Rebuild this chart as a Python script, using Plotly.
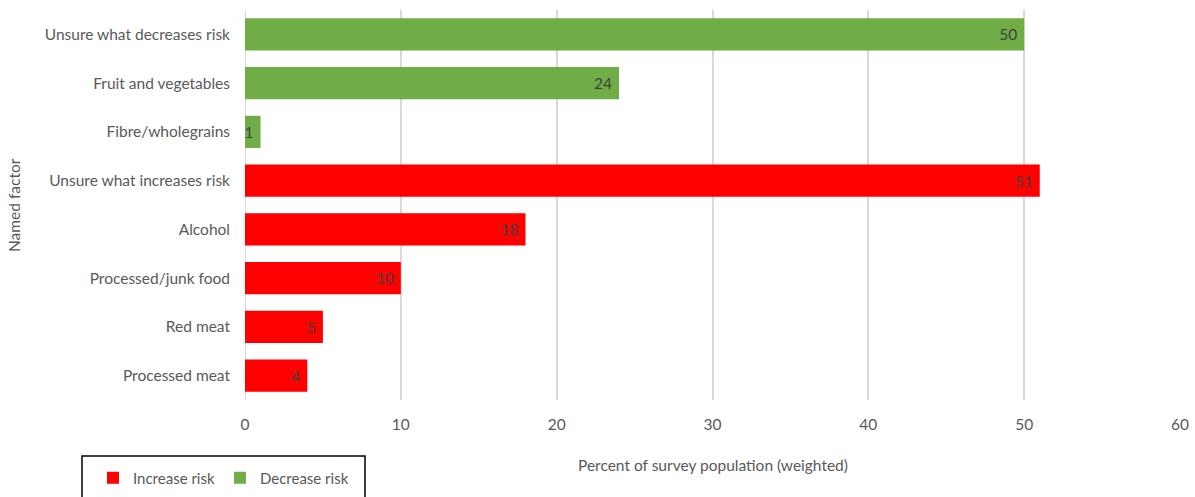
import plotly.graph_objects as go

categories = ["Unsure what decreases risk", "Fruit and vegetables", "Fibre/wholegrains",
              "Unsure what increases risk", "Alcohol", "Processed/junk food", "Red meat", "Processed meat"]
increase_cats = ["Unsure what increases risk", "Alcohol", "Processed/junk food", "Red meat", "Processed meat"]
increase_vals = [51, 18, 10, 5, 4]
decrease_cats = ["Unsure what decreases risk", "Fruit and vegetables", "Fibre/wholegrains"]
decrease_vals = [50, 24, 1]
x_ticks = [0, 10, 20, 30, 40, 50, 60]

FONT = "Lato, Carlito, Calibri, sans-serif"
FS = 15.5
W, H = 1195, 497
L, R, T, B = 245, 15, 10, 97
pw, ph = W - L - R, H - T - B

def px2x(p):
    return (p - L) / pw

def px2y(p):
    return (H - B - p) / ph

fig = go.Figure()
fig.add_trace(go.Bar(
    name="Increase risk", y=increase_cats, x=increase_vals, orientation="h",
    marker=dict(color="#FF0000", line=dict(width=0)),
    text=[f"{v}\u00a0" for v in increase_vals], textposition="inside", insidetextanchor="end",
    constraintext="none",
    textfont=dict(family=FONT, size=FS, color="#404040"), cliponaxis=False,
))
fig.add_trace(go.Bar(
    name="Decrease risk", y=decrease_cats, x=decrease_vals, orientation="h",
    marker=dict(color="#70AD47", line=dict(width=0)),
    text=[f"{v}\u00a0" for v in decrease_vals], textposition="inside", insidetextanchor="end",
    constraintext="none",
    textfont=dict(family=FONT, size=FS, color="#404040"), cliponaxis=False,
))

fig.update_layout(
    width=W, height=H,
    margin=dict(l=L, r=R, t=T, b=B, autoexpand=False),
    paper_bgcolor="white", plot_bgcolor="white",
    barmode="relative", bargap=0.34,
    font=dict(family=FONT, size=FS, color="#595959"),
    xaxis=dict(range=[0, 60], tickvals=x_ticks, showgrid=True, gridcolor="#D9D9D9", gridwidth=2,
               zeroline=False, showline=False, ticks="", ticklabelstandoff=13, automargin=False,
               tickfont=dict(size=FS, color="#595959")),
    yaxis=dict(categoryorder="array", categoryarray=categories[::-1], showgrid=False,
               zeroline=False, showline=False, ticks="", ticklabelstandoff=14, automargin=False,
               tickfont=dict(size=FS, color="#595959")),
    showlegend=True,
    legend=dict(orientation="h", x=px2x(93), xanchor="left", y=px2y(478), yanchor="middle",
                font=dict(size=15, color="#595959"), bgcolor="rgba(0,0,0,0)",
                itemwidth=30, traceorder="normal"),
    annotations=[
        dict(text="Percent of survey population (weighted)", xref="paper", yref="paper",
             x=0.5, y=px2y(465), xanchor="center", yanchor="middle", showarrow=False,
             font=dict(size=FS, color="#595959")),
        dict(text="Named factor", xref="paper", yref="paper", textangle=-90,
             x=px2x(14), y=0.5, xanchor="center", yanchor="middle", showarrow=False,
             font=dict(size=FS, color="#595959")),
    ],
    shapes=[dict(type="rect", xref="paper", yref="paper",
                 x0=px2x(82), x1=px2x(365), y0=px2y(456), y1=px2y(520),
                 line=dict(color="black", width=1.5), fillcolor="rgba(0,0,0,0)", layer="above"),
            dict(type="line", xref="x", yref="paper", x0=0, x1=0, y0=0, y1=1,
                 line=dict(color="#D9D9D9", width=2), layer="below")],
)

fig.write_html("out.html")
